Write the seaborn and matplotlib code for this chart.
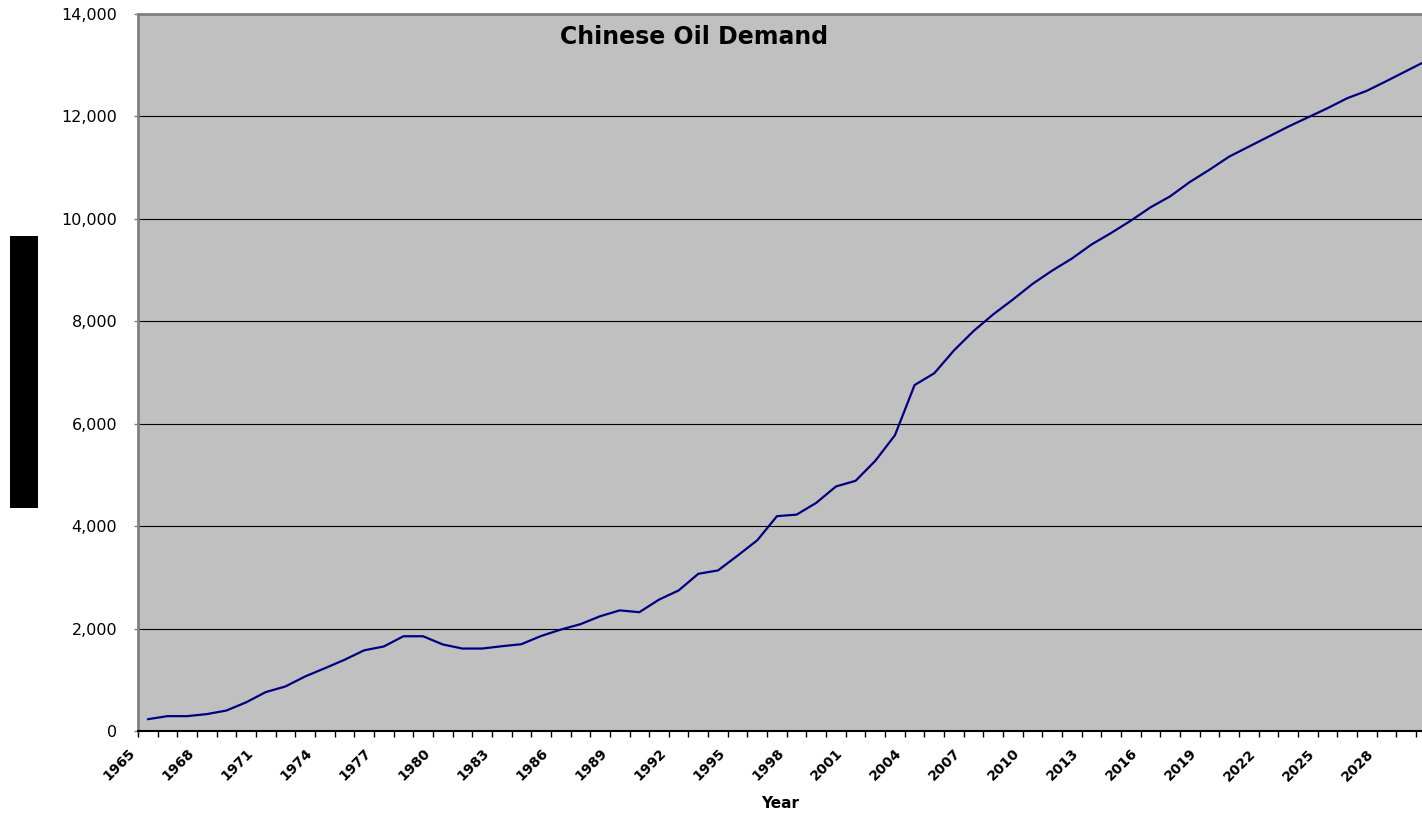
import matplotlib
matplotlib.use("Agg")
import matplotlib.pyplot as plt
import matplotlib.transforms as mtransforms
from matplotlib.patches import Rectangle
import seaborn as sns
import pandas as pd

years = list(range(1965, 2031))
demand = [230, 290, 290, 330, 400, 560, 760, 870, 1065, 1225, 1390, 1575, 1650,
          1850, 1850, 1690, 1610, 1610, 1655, 1695, 1855, 1980, 2085, 2240, 2355,
          2320, 2565, 2745, 3070, 3135, 3425, 3725, 4195, 4225, 4455, 4775, 4885,
          5275, 5775, 6755, 6985, 7430, 7810, 8135, 8425, 8730, 8990, 9225, 9500,
          9725, 9965, 10225, 10440, 10720, 10960, 11215, 11410, 11605, 11800, 11980,
          12160, 12355, 12500, 12690, 12885, 13080]
label_years = list(range(1965, 2030, 3))
y_ticks = [0, 2000, 4000, 6000, 8000, 10000, 12000, 14000]
title = "Chinese Oil Demand"
x_title = "Year"

sns.set_style("white")
plt.rcParams['font.family'] = ['DejaVu Sans']

W, H = 1422, 813
fig = plt.figure(figsize=(W / 100, H / 100), dpi=100)
ax_left, ax_right, ax_top, ax_bottom = 138, 1435.6, 14, 731
ax = fig.add_axes([ax_left / W, 1 - ax_bottom / H, (ax_right - ax_left) / W, (ax_bottom - ax_top) / H])
ax.set_facecolor("#C0C0C0")

df = pd.DataFrame({"Year": years, "Demand": demand})
sns.lineplot(data=df, x="Year", y="Demand", ax=ax, color="#000080", linewidth=1.6)

ax.set_xlim(years[0] - 0.5, years[-1] + 0.5)
ax.set_ylim(0, 14000)
ax.set_yticks(y_ticks)
ax.set_yticklabels([f"{v:,}" for v in y_ticks], fontsize=11.5, color="black")
ax.yaxis.grid(True, color="black", linewidth=0.8)
ax.xaxis.grid(False)
ax.set_axisbelow(True)

ax.set_xticks(label_years)
ax.set_xticklabels([str(y) for y in label_years], rotation=45, ha="right",
                   fontsize=10, fontweight="bold", color="black")
ax.set_xticks([y - 0.5 for y in years] + [years[-1] + 0.5], minor=True)
ax.tick_params(axis="x", which="major", length=0, pad=11)
ax.tick_params(axis="x", which="minor", length=4, width=1, color="black", direction="out", bottom=True)
ax.tick_params(axis="y", which="major", length=3, width=1, color="#808080", pad=12, left=True)

offset = mtransforms.ScaledTranslation(-10 / 100, 0, fig.dpi_scale_trans)
for lab in ax.get_xticklabels():
    lab.set_transform(lab.get_transform() + offset)

for side in ["left", "top"]:
    ax.spines[side].set_color("#808080")
    ax.spines[side].set_linewidth(2)
ax.spines["right"].set_visible(False)
ax.spines["bottom"].set_color("black")
ax.spines["bottom"].set_linewidth(1.5)

ax.set_xlabel("")
ax.set_ylabel("")

fig.text(694 / W, 1 - 37 / H, title, ha="center", va="center",
         fontsize=17, fontweight="bold", color="black")
fig.text(780 / W, 1 - 803 / H, x_title, ha="center", va="center",
         fontsize=11, fontweight="bold", color="black")

fig.patches.append(Rectangle((10 / W, 1 - 508 / H), 28 / W, 272 / H,
                             transform=fig.transFigure, facecolor="black",
                             edgecolor="none", figure=fig))

fig.savefig("out.png", dpi=100)
